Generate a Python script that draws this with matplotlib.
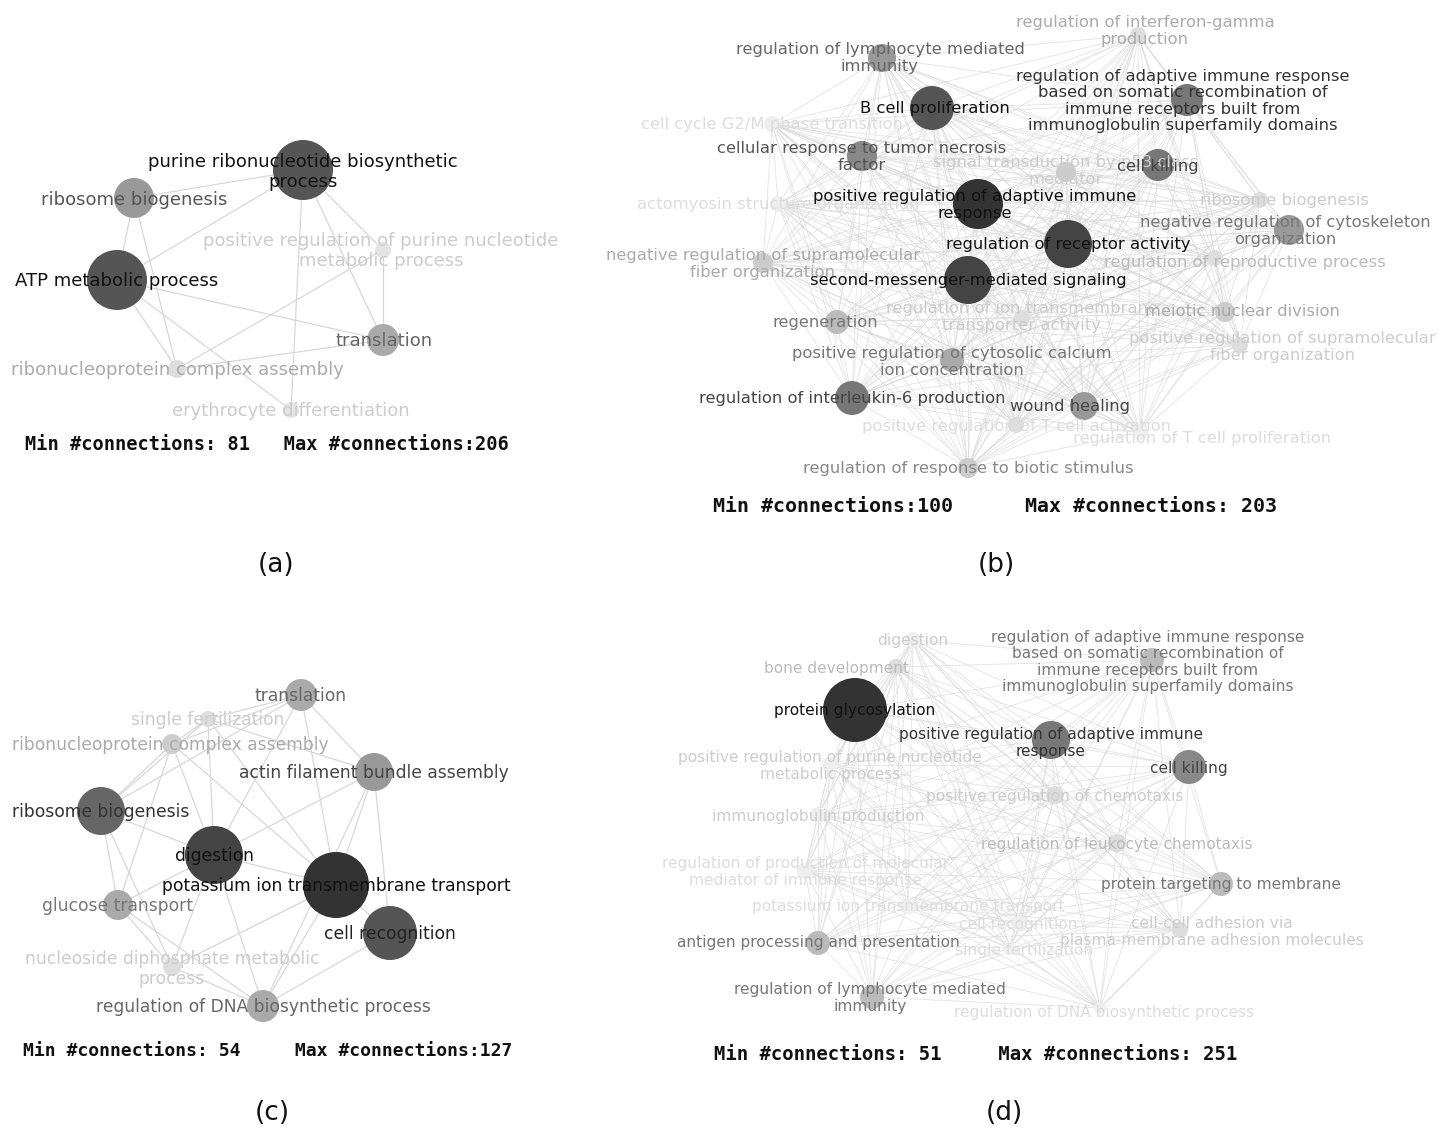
import itertools
import matplotlib
matplotlib.use("Agg")
import matplotlib.pyplot as plt
from matplotlib.patches import Circle

# ---- panel (a) ----
a_labels = ["purine ribonucleotide biosynthetic\nprocess", "ribosome biogenesis",
            "positive regulation of purine nucleotide\nmetabolic process", "ATP metabolic process",
            "translation", "ribonucleoprotein complex assembly", "erythrocyte differentiation"]
a_x = [303, 134, 383, 117, 383, 177, 291]
a_y = [170, 198, 250, 280, 340, 369, 410]
a_r = [30, 20, 8, 30, 16, 9, 8]
a_node = ["#555555", "#999999", "#e4e4e4", "#555555", "#aaaaaa", "#dddddd", "#e4e4e4"]
a_text = ["#111111", "#555555", "#cccccc", "#111111", "#666666", "#aaaaaa", "#cccccc"]
a_tx = [303, 134, 381, 117, 384, 177, 291]
a_ty = [172, 200, 251, 281, 341, 370, 411]
a_edges = [(0, 1), (0, 3), (0, 4), (0, 6), (1, 3), (3, 4), (3, 5), (5, 4),
           (2, 4), (0, 2), (3, 6), (2, 5), (1, 5)]

# ---- panel (b) ----
b_labels = ["regulation of interferon-gamma\nproduction", "regulation of lymphocyte mediated\nimmunity",
            "regulation of adaptive immune response\nbased on somatic recombination of\nimmune receptors built from\nimmunoglobulin superfamily domains",
            "B cell proliferation", "cell cycle G2/M phase transition",
            "cellular response to tumor necrosis\nfactor", "signal transduction by p53 class\nmediator",
            "cell killing", "actomyosin structure organization",
            "positive regulation of adaptive immune\nresponse", "ribosome biogenesis",
            "negative regulation of cytoskeleton\norganization", "regulation of receptor activity",
            "negative regulation of supramolecular\nfiber organization", "regulation of reproductive process",
            "second-messenger-mediated signaling", "regulation of ion transmembrane\ntransporter activity",
            "meiotic nuclear division", "regeneration",
            "positive regulation of supramolecular\nfiber organization",
            "positive regulation of cytosolic calcium\nion concentration",
            "regulation of interleukin-6 production", "wound healing",
            "positive regulation of T cell activation", "regulation of T cell proliferation",
            "regulation of response to biotic stimulus"]
b_x = [1138, 882, 1187, 932, 772, 862, 1066, 1158, 778, 978, 1260, 1289, 1068,
       763, 1215, 968, 1022, 1225, 837, 1240, 952, 852, 1084, 1016, 1140, 968]
b_y = [35, 58, 100, 108, 124, 156, 172, 165, 204, 204, 200, 230, 244,
       263, 258, 280, 318, 312, 322, 345, 360, 398, 406, 425, 432, 468]
b_r = [8, 14, 16, 22, 8, 15, 10, 16, 8, 25, 8, 15, 24,
       10, 8, 24, 8, 10, 12, 8, 12, 17, 14, 8, 8, 10]
b_node = ["#dddddd", "#999999", "#777777", "#555555", "#eeeeee", "#888888", "#cccccc",
          "#777777", "#eeeeee", "#333333", "#dddddd", "#999999", "#444444", "#cccccc",
          "#dddddd", "#444444", "#dddddd", "#cccccc", "#bbbbbb", "#dddddd", "#aaaaaa",
          "#777777", "#999999", "#dddddd", "#eeeeee", "#cccccc"]
b_text = ["#aaaaaa", "#666666", "#333333", "#111111", "#dddddd", "#555555", "#cccccc",
          "#444444", "#dddddd", "#111111", "#cccccc", "#777777", "#111111", "#aaaaaa",
          "#bbbbbb", "#111111", "#cccccc", "#aaaaaa", "#777777", "#cccccc", "#777777",
          "#444444", "#444444", "#dddddd", "#dddddd", "#888888"]
b_tx = [1145, 880, 1183, 935, 772, 862, 1066, 1158, 778, 975, 1285, 1285, 1068,
        763, 1245, 968, 1022, 1242, 825, 1282, 952, 852, 1070, 1016, 1202, 968]
b_ty = [31, 58, 101, 109, 125, 157, 171, 166, 205, 205, 201, 231, 245,
        264, 262, 281, 317, 312, 322, 347, 362, 399, 407, 426, 438, 469]

# ---- panel (c) ----
c_labels = ["translation", "single fertilization", "ribonucleoprotein complex assembly",
            "actin filament bundle assembly", "ribosome biogenesis", "digestion",
            "potassium ion transmembrane transport", "glucose transport", "cell recognition",
            "nucleoside diphosphate metabolic\nprocess", "regulation of DNA biosynthetic process"]
c_x = [301, 208, 172, 374, 101, 214, 336, 118, 390, 172, 263]
c_y = [695, 719, 744, 772, 811, 855, 885, 905, 933, 967, 1006]
c_r = [16, 8, 10, 19, 24, 29, 33, 15, 27, 9, 16]
c_node = ["#aaaaaa", "#dddddd", "#cccccc", "#999999", "#666666", "#444444",
          "#333333", "#aaaaaa", "#555555", "#dddddd", "#aaaaaa"]
c_text = ["#666666", "#cccccc", "#aaaaaa", "#444444", "#333333", "#111111",
          "#111111", "#777777", "#222222", "#cccccc", "#666666"]
c_tx = [301, 208, 170, 374, 101, 214, 336, 118, 390, 172, 263]
c_ty = [696, 720, 745, 773, 812, 856, 886, 906, 934, 969, 1007]
c_edges = [(0, 1), (0, 2), (0, 3), (0, 5), (0, 6), (1, 2), (1, 4), (1, 5), (1, 6),
           (2, 4), (2, 5), (2, 7), (3, 5), (3, 6), (3, 8), (4, 5), (4, 7), (4, 9),
           (5, 6), (5, 7), (5, 9), (5, 10), (6, 8), (6, 10), (6, 9), (7, 9), (7, 10),
           (8, 10), (9, 10), (3, 10), (2, 6), (1, 3), (0, 4)]

# ---- panel (d) ----
d_labels = ["digestion",
            "regulation of adaptive immune response\nbased on somatic recombination of\nimmune receptors built from\nimmunoglobulin superfamily domains",
            "bone development", "protein glycosylation",
            "positive regulation of adaptive immune\nresponse", "cell killing",
            "positive regulation of purine nucleotide\nmetabolic process",
            "positive regulation of chemotaxis", "immunoglobulin production",
            "regulation of leukocyte chemotaxis",
            "regulation of production of molecular\nmediator of immune response",
            "protein targeting to membrane", "potassium ion transmembrane transport",
            "cell recognition", "cell-cell adhesion via\nplasma-membrane adhesion molecules",
            "antigen processing and presentation", "single fertilization",
            "regulation of lymphocyte mediated\nimmunity", "regulation of DNA biosynthetic process"]
d_x = [913, 1152, 896, 855, 1051, 1189, 830, 1055, 818, 1117, 805, 1221,
       908, 1020, 1180, 818, 1010, 872, 1100]
d_y = [640, 660, 667, 710, 740, 767, 765, 795, 815, 843, 871, 884,
       906, 924, 930, 943, 948, 997, 1008]
d_r = [8, 12, 8, 32, 19, 17, 8, 9, 8, 9, 8, 12, 8, 8, 8, 12, 7, 12, 6]
d_node = ["#eeeeee", "#bbbbbb", "#dddddd", "#333333", "#777777", "#888888", "#eeeeee",
          "#dddddd", "#eeeeee", "#dddddd", "#eeeeee", "#bbbbbb", "#eeeeee", "#eeeeee",
          "#dddddd", "#bbbbbb", "#eeeeee", "#bbbbbb", "#eeeeee"]
d_text = ["#cccccc", "#777777", "#bbbbbb", "#111111", "#333333", "#444444", "#cccccc",
          "#cccccc", "#cccccc", "#bbbbbb", "#dddddd", "#777777", "#dddddd", "#dddddd",
          "#cccccc", "#777777", "#dddddd", "#777777", "#dddddd"]
d_tx = [913, 1148, 836, 855, 1051, 1189, 830, 1055, 818, 1117, 805, 1221,
        908, 1018, 1212, 818, 1024, 870, 1104]
d_ty = [641, 662, 668, 711, 743, 768, 766, 796, 816, 844, 872, 885,
        906, 924, 932, 943, 951, 998, 1013]

panels = [
    (a_labels, a_x, a_y, a_r, a_node, a_text, a_tx, a_ty, a_edges, 13),
    (b_labels, b_x, b_y, b_r, b_node, b_text, b_tx, b_ty,
     list(itertools.combinations(range(len(b_x)), 2)), 11.8),
    (c_labels, c_x, c_y, c_r, c_node, c_text, c_tx, c_ty, c_edges, 12.3),
    (d_labels, d_x, d_y, d_r, d_node, d_text, d_tx, d_ty,
     list(itertools.combinations(range(len(d_x)), 2)), 11.1),
]

stats = ["Min #connections: 81   Max #connections:206",
         "Min #connections:100      Max #connections: 203",
         "Min #connections: 54     Max #connections:127",
         "Min #connections: 51     Max #connections: 251"]
stats_x = [267, 995, 268, 976]
stats_y = [444, 506, 1051, 1055]
stats_fs = [13.4, 14.3, 13.0, 13.6]
tags = ["(a)", "(b)", "(c)", "(d)"]
tags_x = [276, 996, 272, 1004]
tags_y = [565, 565, 1113, 1113]

fig = plt.figure(figsize=(14.49, 11.33), dpi=100)
ax = fig.add_axes([0, 0, 1, 1])
ax.set_xlim(0, 1449)
ax.set_ylim(1133, 0)
ax.axis("off")

for labels, xs, ys, rs, ncol, tcol, tx, ty, edges, fs in panels:
    dense = len(edges) > 60
    for i, j in edges:
        ax.plot([xs[i], xs[j]], [ys[i], ys[j]], color="#d8d8d8",
                lw=0.6 if dense else 0.9, alpha=0.7 if dense else 1.0, zorder=1)
    for x, y, r, c in zip(xs, ys, rs, ncol):
        ax.add_patch(Circle((x, y), r, facecolor=c, edgecolor="none", zorder=2))
    for lab, x, y, c in zip(labels, tx, ty, tcol):
        ax.text(x, y, lab, ha="center", va="center", fontsize=fs, color=c,
                linespacing=1.1, zorder=3)

for s, x, y, fs in zip(stats, stats_x, stats_y, stats_fs):
    ax.text(x, y, s, ha="center", va="center", fontsize=fs, family="DejaVu Sans Mono",
            fontweight="bold", color="#111111")
for t, x, y in zip(tags, tags_x, tags_y):
    ax.text(x, y, t, ha="center", va="center", fontsize=19, color="#111111")

fig.savefig("out.png", dpi=100, facecolor="white")
